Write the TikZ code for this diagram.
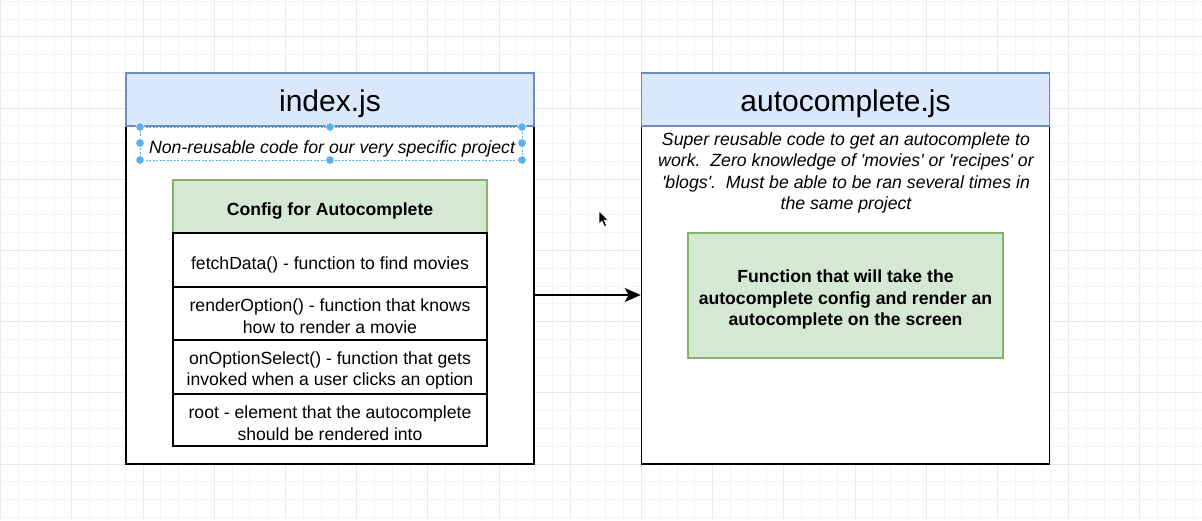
\documentclass[tikz,border=0pt]{standalone}
\usepackage{fontspec}
\setmainfont{Liberation Sans}
\usetikzlibrary{arrows.meta}
\definecolor{hdrblue}{HTML}{DAE8FC}
\definecolor{hdrblueline}{HTML}{6C8EBF}
\definecolor{grnfill}{HTML}{D5E8D4}
\definecolor{grnline}{HTML}{82B366}
\definecolor{gridmin}{HTML}{F4F4F4}
\definecolor{gridmaj}{HTML}{E8E8E8}
\definecolor{selblue}{HTML}{5AB0EA}
\tikzset{
  gridminor/.style={draw=gridmin, line width=0.8pt},
  gridmajor/.style={draw=gridmaj, line width=0.9pt},
  header/.style={draw=hdrblueline, fill=hdrblue, line width=1.2pt, minimum width=408pt, minimum height=53pt, inner sep=0pt},
  title/.style={inner sep=0pt, font=\fontsize{30}{36}\selectfont},
  body/.style={draw=black, fill=white, line width=1.6pt, minimum width=408pt, minimum height=338pt, inner sep=0pt},
  cfghead/.style={draw=grnline, fill=grnfill, line width=1.2pt, minimum width=314pt, minimum height=53pt, inner sep=0pt},
  cfgrow/.style={draw=black, fill=white, line width=1.4pt, minimum width=314pt, inner sep=0pt},
  plain/.style={inner sep=0pt, align=center, font=\fontsize{17.6}{21.6}\selectfont},
  boldtxt/.style={inner sep=0pt, align=center, font=\fontsize{17.6}{21.6}\selectfont\bfseries},
  desc/.style={inner sep=0pt, align=center, font=\fontsize{17.7}{21.3}\selectfont\itshape},
  funcbox/.style={draw=grnline, fill=grnfill, line width=1.2pt, minimum width=315pt, minimum height=125pt, inner sep=0pt},
  conn/.style={draw=black, line width=1.6pt, -{Stealth[length=16pt, width=14pt, inset=4pt]}},
  selbox/.style={draw=selblue, line width=0.8pt, dash pattern=on 2pt off 1.5pt},
  handle/.style={fill=selblue, draw=white, line width=0.6pt},
}
\begin{document}
\begin{tikzpicture}[x=1pt, y=-1pt]
\useasboundingbox (0,0) rectangle (1202,520);
\fill[white] (0,0) rectangle (1202,520);
% background grid
\foreach \k in {-8,...,60}{
  \pgfmathtruncatemacro\m{mod(\k+400,4)}
  \ifnum\m=0 \def\gs{gridmajor}\else\def\gs{gridminor}\fi
  \draw[\gs] ({143+17.8*\k},0) -- ({143+17.8*\k},520);
}
\foreach \k in {-7,...,24}{
  \pgfmathtruncatemacro\m{mod(\k+400,4)}
  \ifnum\m=0 \def\gs{gridmajor}\else\def\gs{gridminor}\fi
  \draw[\gs] (0,{108+17.8*\k}) -- (1202,{108+17.8*\k});
}
% left container
\node[body] (lbody) at (330,295) {};
\node[header] (lhead) at (330,99.5) {};
\node[title] (lheadt) at ([yshift=-4pt]lhead.center) {index.js};
\node[desc] (ldesc) at (332,149) {Non-reusable code for our very specific project};
% selection frame around description
\draw[selbox] (140,127) rectangle (522,160);
\foreach \hx/\hy in {140/127,330/127,522/127,140/143,522/143,140/160,330/160,522/160}{
  \fill[handle] (\hx,\hy) circle (4.3);
}
% config table
\node[cfghead] (cfgh) at (330,206.5) {};
\node[boldtxt] (cfght) at ([yshift=-4.5pt]cfgh.center) {Config for Autocomplete};
\node[cfgrow, minimum height=54pt] (r1) at (330,260) {};
\node[plain] (r1t) at ([yshift=-5pt]r1.center) {fetchData() - function to find movies};
\node[cfgrow, minimum height=53pt] (r2) at (330,313.5) {};
\node[plain] (r2t) at ([yshift=-3pt]r2.center) {renderOption() - function that knows\\how to render a movie};
\node[cfgrow, minimum height=54pt] (r3) at (330,367) {};
\node[plain] (r3t) at ([yshift=-3.5pt]r3.center) {onOptionSelect() - function that gets\\invoked when a user clicks an option};
\node[cfgrow, minimum height=52pt] (r4) at (330,420) {};
\node[plain] (r4t) at ([yshift=-3pt]r4.center) {root - element that the autocomplete\\should be rendered into};
% right container
\node[body] (rbody) at (845.5,295) {};
\node[header] (rhead) at (845.5,99.5) {};
\node[title] (rheadt) at ([yshift=-4pt]rhead.center) {autocomplete.js};
\node[desc] (rdesc) at (846,173) {Super reusable code to get an autocomplete to\\work.\ \ Zero knowledge of \textquotesingle movies\textquotesingle\ or \textquotesingle recipes\textquotesingle\ or\\\textquotesingle blogs\textquotesingle.\ \ Must be able to be ran several times in\\the same project};
\node[funcbox] (func) at (845.5,295.5) {};
\node[boldtxt] (funct) at ([yshift=-4pt]func.center) {Function that will take the\\autocomplete config and render an\\autocomplete on the screen};
% connector
\draw[conn] (lbody.east) -- (rbody.west);
% mouse pointer
\filldraw[fill=black, draw=white, line width=0.5pt] (599,211) -- (599,224) -- (602,221) -- (604.5,226.5) -- (606.5,225.5) -- (604,220) -- (608,220) -- cycle;
\end{tikzpicture}
\end{document}
